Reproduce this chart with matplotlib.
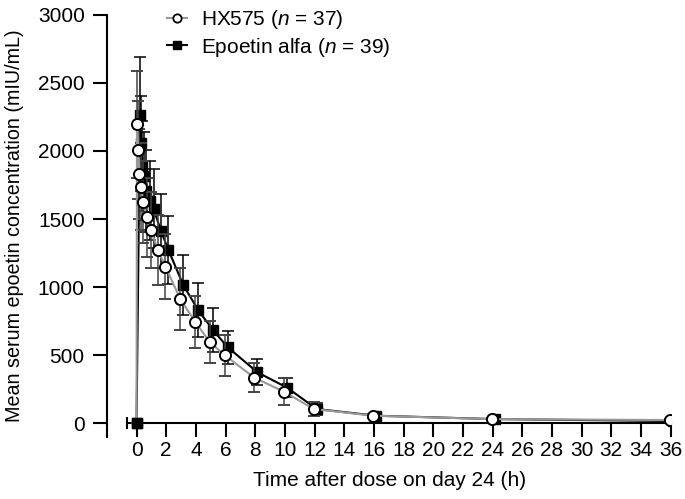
import numpy as np
import matplotlib.pyplot as plt

plt.rcParams['font.family'] = ['Liberation Sans', 'DejaVu Sans']
plt.rcParams['mathtext.fontset'] = 'custom'
plt.rcParams['mathtext.it'] = 'Liberation Sans:italic'
plt.rcParams['mathtext.rm'] = 'Liberation Sans'

# Nominal sampling times (h)
times = [0, 0.083, 0.167, 0.25, 0.33, 0.5, 0.75, 1, 1.5, 2,
         3, 4, 5, 6, 8, 10, 12, 16, 24, 36]

# Mean serum epoetin concentration (mIU/mL) and SD
hx_mean = [0, 2196, 2007, 1831, 1738, 1623, 1512, 1419, 1272, 1149,
           912, 745, 594, 498, 333, 230, 103, 54, 29, 22]
hx_sd = [0, 392, 360, 330, 320, 300, 290, 280, 260, 240,
         230, 190, 155, 150, 105, 98, 50, 15, 10, 5]
ea_mean = [0, 2265, 2056, 1892, 1816, 1708, 1635, 1574, 1412, 1272,
           1015, 831, 684, 557, 373, 260, 103, 54, 29, 15]
ea_sd = [0, 424, 350, 330, 320, 300, 290, 290, 270, 250,
         220, 195, 165, 120, 95, 70, 45, 15, 10, 5]

hx_label = 'HX575 ($n$ = 37)'
ea_label = 'Epoetin alfa ($n$ = 39)'

t = np.array(times)
t_hx = np.where(t > 0, t - 0.05, t)
t_ea = np.where(t > 0, t + 0.15, t)

FS = 15

fig = plt.figure(figsize=(6.85, 4.99), dpi=100)
ax = fig.add_axes([0.156, 0.1236, 0.824, 0.8464])

# Epoetin alfa (black squares)
ax.errorbar(t_ea, ea_mean, yerr=ea_sd, color='black', lw=1.5,
            elinewidth=1.1, capsize=4.5, capthick=1.1,
            marker='s', ms=7.5, mfc='black', mec='black', zorder=2)
# HX575 (open circles), the zero point is hidden under the black one
ax.errorbar(t_hx, hx_mean, yerr=hx_sd, color='#999999', ecolor='#444444',
            lw=1.5, elinewidth=1.1, capsize=4.5, capthick=1.1,
            marker='o', ms=8, mfc='white', mec='black', mew=1.4, zorder=3,
            markevery=list(range(1, len(times))))
ax.plot(t_ea[:1], ea_mean[:1], 's', ms=7.5, color='black', zorder=4)

# legend handles with smaller markers
ax.plot([], [], color='#999999', lw=1.5, marker='o', ms=6, mfc='white',
        mec='black', mew=1.3, label=hx_label)
ax.plot([], [], color='black', lw=1.5, marker='s', ms=5.5, mfc='black',
        mec='black', label=ea_label)

ax.set_xlim(-2, 36.05)
ax.set_ylim(-105, 3000)
ax.set_xticks(np.arange(0, 37, 2))
ax.set_yticks(np.arange(0, 3001, 500))

for s in ['top', 'right']:
    ax.spines[s].set_visible(False)
ax.spines['bottom'].set_position(('data', 0))
ax.spines['bottom'].set_bounds(-0.65, 36)
ax.spines['left'].set_linewidth(1.5)
ax.spines['bottom'].set_linewidth(1.5)
ax.plot([-0.65], [0], marker='|', ms=9, mew=1.5, color='black',
        clip_on=False)

ax.tick_params(axis='both', direction='out', length=10, width=1.5,
               labelsize=FS, colors='black')
ax.tick_params(axis='x', pad=3)
ax.tick_params(axis='y', pad=6)

ax.set_xlabel('Time after dose on day 24 (h)', fontsize=FS)
ax.xaxis.set_label_coords(0.5, -0.08)
ax.set_ylabel('Mean serum epoetin concentration (mIU/mL)', fontsize=14.2)
ax.yaxis.set_label_coords(-0.147, 0.5)

leg = ax.legend(loc='upper left', bbox_to_anchor=(0.073, 1.06),
                frameon=False, fontsize=FS, handlelength=0.95,
                handletextpad=0.7, labelspacing=0.2)

fig.savefig('out.png', dpi=100)
